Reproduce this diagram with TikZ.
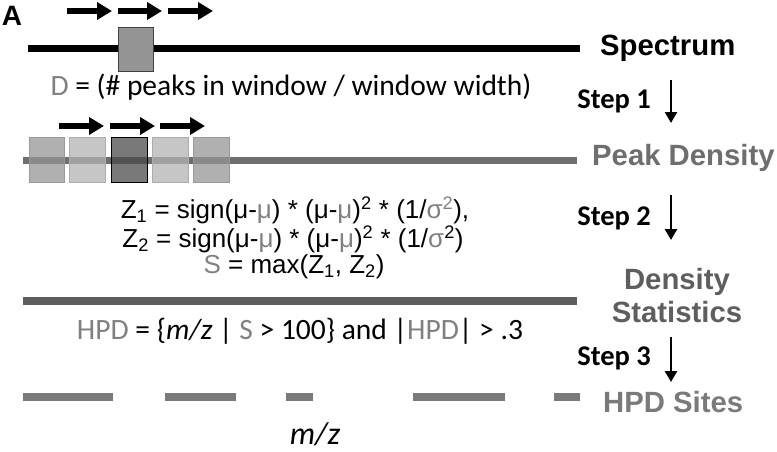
\documentclass[tikz,border=0pt]{standalone}
\usepackage{fontspec}
\setmainfont{Carlito}
\newfontfamily\arialf{Liberation Sans}
\usepackage{xcolor}
\usetikzlibrary{arrows.meta,positioning}

\definecolor{lowgray}{HTML}{808080}
\definecolor{densgray}{HTML}{6E6E6E}
\definecolor{statgray}{HTML}{5E5E5E}
\definecolor{hpdgray}{HTML}{7A7A7A}

\newcommand{\gr}[1]{\textcolor{lowgray}{#1}}

\begin{document}
\begin{tikzpicture}[x=1pt,y=-1pt,
  slide/.style={line width=5.5pt,-{Triangle[length=15pt,width=17pt]}},
  stepdown/.style={line width=2.6pt,-{Triangle[length=11pt,width=12pt]}},
  rowlabel/.style={font=\arialf\bfseries\fontsize{29.3}{33}\selectfont,anchor=west,inner sep=0pt},
  steplabel/.style={font=\bfseries\fontsize{28.5}{30}\selectfont,anchor=east,inner sep=0pt},
  formula/.style={font=\fontsize{29.5}{32}\selectfont,inner sep=0pt},
  zformula/.style={font=\arialf\fontsize{26}{29}\selectfont,inner sep=0pt},
  win/.style={line width=0.8pt,fill opacity=0.74}]

\useasboundingbox (0,0) rectangle (777,452);

\node[font=\arialf\bfseries\fontsize{28}{30}\selectfont,inner sep=0pt] (panel) at (12,16) {A};

%% spectrum
\draw[line width=7pt] (28,49) -- (580,49);
\filldraw[win,draw=black!75,fill=black!42,fill opacity=1] (118,27) rectangle (153,71);
\draw[slide] (67,11) -- (112,11);
\draw[slide] (118,11) -- (162,11);
\draw[slide] (168,11) -- (213,11);
\node[rowlabel] (spec) at (600,48) {Spectrum};

\node[formula] (dform) at (291,87) {\gr{D} = (\# peaks in window / window width)};

\node[steplabel] (step1) at (651,101) {Step 1};
\coordinate (s1top) at (671,80);
\coordinate (s1bot) at (671,123);
\draw[stepdown] (s1top) -- (s1bot);

%% peak density
\draw[densgray,line width=7pt] (23,160) -- (577,160);
\filldraw[win,draw=black!40,fill=black!42] (29,137) rectangle (64,182);
\filldraw[win,draw=black!32,fill=black!30] (69,137) rectangle (105,182);
\filldraw[win,draw=black,fill=black!71] (111,137) rectangle (147,182);
\filldraw[win,draw=black!32,fill=black!30] (152,137) rectangle (188,182);
\filldraw[win,draw=black!40,fill=black!42] (193,137) rectangle (229,182);
\draw[slide] (59,126) -- (104,126);
\draw[slide] (110,126) -- (155,126);
\draw[slide] (160,126) -- (205,126);
\node[rowlabel,text=densgray] (peakd) at (592,158) {Peak Density};

\node[steplabel] (step2) at (651,218) {Step 2};
\coordinate (s2top) at (671,195);
\coordinate (s2bot) at (671,240);
\draw[stepdown] (s2top) -- (s2bot);

\node[zformula] (zone) at (295,210)
  {Z\textsubscript{1} = sign(μ-\gr{μ}) * (μ-\gr{μ})\textsuperscript{2} * (1/\gr{σ\textsuperscript{2}}),};
\node[zformula] (ztwo) at (293,239)
  {Z\textsubscript{2} = sign(μ-\gr{μ}) * (μ-\gr{μ})\textsuperscript{2} * (1/\gr{σ}\textsuperscript{2})};
\node[zformula] (smax) at (294,267) {\gr{S} = max(Z\textsubscript{1}, Z\textsubscript{2})};

%% density statistics
\draw[statgray,line width=8pt] (23,301) -- (577,301);
\node[rowlabel,anchor=center,text=statgray,align=center] (dstat) at (677,296)
  {Density\\[0pt]Statistics};

\node[formula] (hpdform) at (300,331)
  {\gr{HPD} = \{\textit{m/z} | \gr{S} > 100\} and |\gr{HPD}| > .3};

\node[steplabel] (step3) at (651,358) {Step 3};
\coordinate (s3top) at (671,337);
\coordinate (s3bot) at (671,382);
\draw[stepdown] (s3top) -- (s3bot);

%% HPD sites
\foreach \a/\b in {23/113,165/236,286/313,413/505,554/580}
  \draw[hpdgray,line width=8pt] (\a,397) -- (\b,397);
\node[rowlabel,text=hpdgray] (sites) at (603,402) {HPD Sites};

\node[formula,font=\itshape\fontsize{32}{34}\selectfont] (mz) at (315,434) {m/z};
\end{tikzpicture}
\end{document}
